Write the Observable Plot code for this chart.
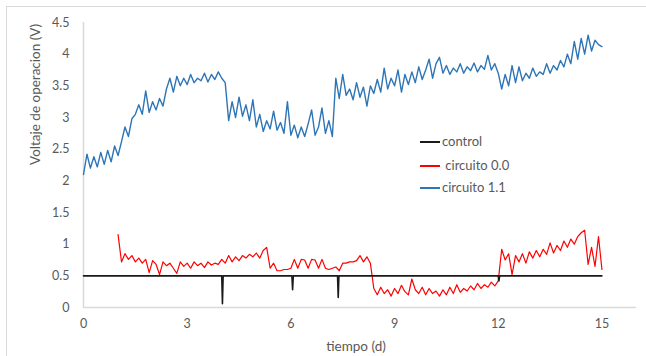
<!DOCTYPE html>
<html>
<head>
<meta charset="utf-8">
<script src="https://cdn.jsdelivr.net/npm/d3@7"></script>
<script src="https://cdn.jsdelivr.net/npm/@observablehq/plot@0.6"></script>
<style>
  html, body { margin: 0; padding: 0; background: #fff; }
  #wrap { position: relative; width: 646px; height: 356px; overflow: hidden; font-family: Lato, "Open Sans", sans-serif; }
  #border { position: absolute; left: 6px; top: 6px; width: 700px; height: 400px; border-top: 1.5px solid #d9d9d9; border-left: 1.5px solid #d9d9d9; }
  #chart { position: absolute; left: 0; top: 0; }
  .leg { position: absolute; left: 420px; height: 16px; font-size: 13px; color: #595959; line-height: 16px; white-space: pre; }
  .leg span.sw { display: inline-block; width: 20px; height: 2px; vertical-align: middle; margin-right: 2px; position: relative; top: -1px; }
</style>
</head>
<body>
<div id="wrap">
  <div id="border"></div>
  <div id="chart"></div>
  <div id="legend"></div>
</div>
<script>
// ---- data ----
const seriesNames = ["control", "circuito 0.0", "circuito 1.1"];
const seriesColors = ["#1a1a1a", "#ff0000", "#2e75b6"];

const xTicks = [0, 3, 6, 9, 12, 15];
const yTicks = [0, 0.5, 1, 1.5, 2, 2.5, 3, 3.5, 4, 4.5];
const yTickLabels = ["0", "0.5", "1", "1.5", "2", "2.5", "3", "3.5", "4", "4.5"];

// control: time (d) and voltage (V)
const controlT = [0, 4.0, 4.02, 4.04, 6.03, 6.05, 6.07, 7.35, 7.37, 7.39, 12.0, 12.02, 12.04, 15];
const controlV = [0.5, 0.5, 0.06, 0.5, 0.5, 0.28, 0.5, 0.5, 0.16, 0.5, 0.5, 0.42, 0.5, 0.5];

// circuito 1.1: sampled every 0.1 d from t = 0
const c11Start = 0, c11Step = 0.1;
const c11V = [
  2.10, 2.42, 2.20, 2.38, 2.22, 2.45, 2.26, 2.48, 2.30, 2.55,
  2.40, 2.62, 2.85, 2.70, 2.98, 3.05, 3.20, 3.05, 3.42, 3.08,
  3.25, 3.12, 3.30, 3.18, 3.45, 3.62, 3.40, 3.65, 3.50, 3.62,
  3.52, 3.68, 3.55, 3.62, 3.58, 3.70, 3.56, 3.68, 3.60, 3.72,
  3.62, 3.55, 2.95, 3.25, 3.00, 3.32, 3.02, 3.20, 2.95, 3.28,
  2.85, 3.05, 2.78, 2.95, 2.82, 3.10, 2.80, 2.92, 2.75, 3.25,
  2.72, 2.88, 2.68, 2.85, 2.70, 2.90, 3.12, 2.72, 2.85, 3.15,
  2.75, 2.95, 2.70, 3.62, 3.30, 3.68, 3.35, 3.45, 3.28, 3.55,
  3.32, 3.48, 3.18, 3.50, 3.38, 3.60, 3.40, 3.78, 3.45, 3.62,
  3.50, 3.75, 3.40, 3.68, 3.52, 3.72, 3.55, 3.80, 3.60, 3.75,
  3.92, 3.62, 3.85, 3.95, 3.70, 3.82, 3.68, 3.78, 3.72, 3.85,
  3.70, 3.80, 3.74, 3.86, 3.72, 3.82, 3.76, 3.98, 3.75, 3.85,
  3.70, 3.45, 3.68, 3.50, 3.82, 3.55, 3.80, 3.58, 3.70, 3.62,
  3.78, 3.65, 3.72, 3.68, 3.85, 3.70, 3.82, 3.75, 3.90, 3.80,
  4.00, 3.85, 4.20, 3.92, 4.25, 4.00, 4.30, 4.05, 4.22, 4.15,
  4.12
];

// circuito 0.0: sampled every 0.1 d from t = 1
const c00Start = 1, c00Step = 0.1;
const c00V = [
  1.15, 0.72, 0.85, 0.76, 0.82, 0.72, 0.78, 0.70, 0.76, 0.55,
  0.74, 0.68, 0.52, 0.72, 0.66, 0.70, 0.62, 0.54, 0.72, 0.65,
  0.70, 0.62, 0.72, 0.66, 0.70, 0.63, 0.72, 0.67, 0.70, 0.68,
  0.76, 0.70, 0.82, 0.72, 0.80, 0.74, 0.82, 0.78, 0.84, 0.80,
  0.86, 0.78, 0.90, 0.95, 0.62, 0.70, 0.58, 0.58, 0.60, 0.60,
  0.62, 0.76, 0.62, 0.76, 0.75, 0.62, 0.76, 0.75, 0.62, 0.76,
  0.62, 0.60, 0.62, 0.64, 0.58, 0.70, 0.70, 0.72, 0.72, 0.74,
  0.82, 0.72, 0.80, 0.70, 0.30, 0.20, 0.32, 0.22, 0.28, 0.18,
  0.30, 0.22, 0.35, 0.25, 0.20, 0.45, 0.28, 0.22, 0.32, 0.20,
  0.30, 0.22, 0.26, 0.18, 0.28, 0.20, 0.32, 0.22, 0.36, 0.24,
  0.30, 0.26, 0.34, 0.28, 0.38, 0.30, 0.36, 0.32, 0.40, 0.34,
  0.42, 0.92, 0.75, 0.85, 0.52, 0.82, 0.72, 0.85, 0.70, 0.88,
  0.78, 0.90, 0.80, 0.92, 0.84, 1.02, 0.86, 0.98, 0.90, 1.05,
  0.95, 1.08, 1.00, 1.12, 1.18, 1.22, 0.68, 0.95, 0.65, 1.12,
  0.60
];

// ---- build tables ----
const controlData = controlT.map((t, i) => ({t, v: controlV[i]}));
const c11Data = c11V.map((v, i) => ({t: +(c11Start + i * c11Step).toFixed(2), v}));
const c00Data = c00V.map((v, i) => ({t: +(c00Start + i * c00Step).toFixed(2), v}));

const chart = Plot.plot({
  width: 646,
  height: 356,
  marginLeft: 83,
  marginRight: 10,
  marginTop: 22,
  marginBottom: 49,
  style: { fontFamily: "Lato, 'Open Sans', sans-serif", fontSize: "12.5px", color: "#595959", background: "transparent" },
  x: { domain: [0, 16] },
  y: { domain: [0, 4.5] },
  marks: [
    Plot.ruleY([0], { stroke: "#d9d9d9", strokeWidth: 1.5 }),
    Plot.ruleX([0], { stroke: "#d9d9d9", strokeWidth: 1.5 }),
    Plot.axisX({ ticks: xTicks, tickSize: 0, tickPadding: 12, label: null, fill: "#595959", tickFormat: d => String(d) }),
    Plot.axisY({ ticks: yTicks, tickSize: 0, tickPadding: 14, label: null, fill: "#595959", tickFormat: d => yTickLabels[yTicks.indexOf(d)] }),
    Plot.line(c11Data, { x: "t", y: "v", stroke: seriesColors[2], strokeWidth: 1.4 }),
    Plot.line(c00Data, { x: "t", y: "v", stroke: seriesColors[1], strokeWidth: 1.2 }),
    Plot.line(controlData, { x: "t", y: "v", stroke: seriesColors[0], strokeWidth: 1.6 }),
    Plot.text(["Voltaje de operacion (V)"], { frameAnchor: "left", dx: -48, rotate: -90, fill: "#595959", fontSize: 13.5 }),
    Plot.text(["tiempo (d)"], { frameAnchor: "bottom", dx: -4, dy: 43, fill: "#595959", fontSize: 13.5 })
  ]
});
document.getElementById("chart").appendChild(chart);

// ---- legend ----
const legTops = [133, 157, 179];
const legText = ["control", " circuito 0.0", "circuito 1.1"];
const legend = document.getElementById("legend");
seriesNames.forEach((name, i) => {
  const d = document.createElement("div");
  d.className = "leg";
  d.style.top = legTops[i] + "px";
  const sw = document.createElement("span");
  sw.className = "sw";
  sw.style.background = seriesColors[i];
  d.appendChild(sw);
  d.appendChild(document.createTextNode(legText[i]));
  legend.appendChild(d);
});
</script>
</body>
</html>
